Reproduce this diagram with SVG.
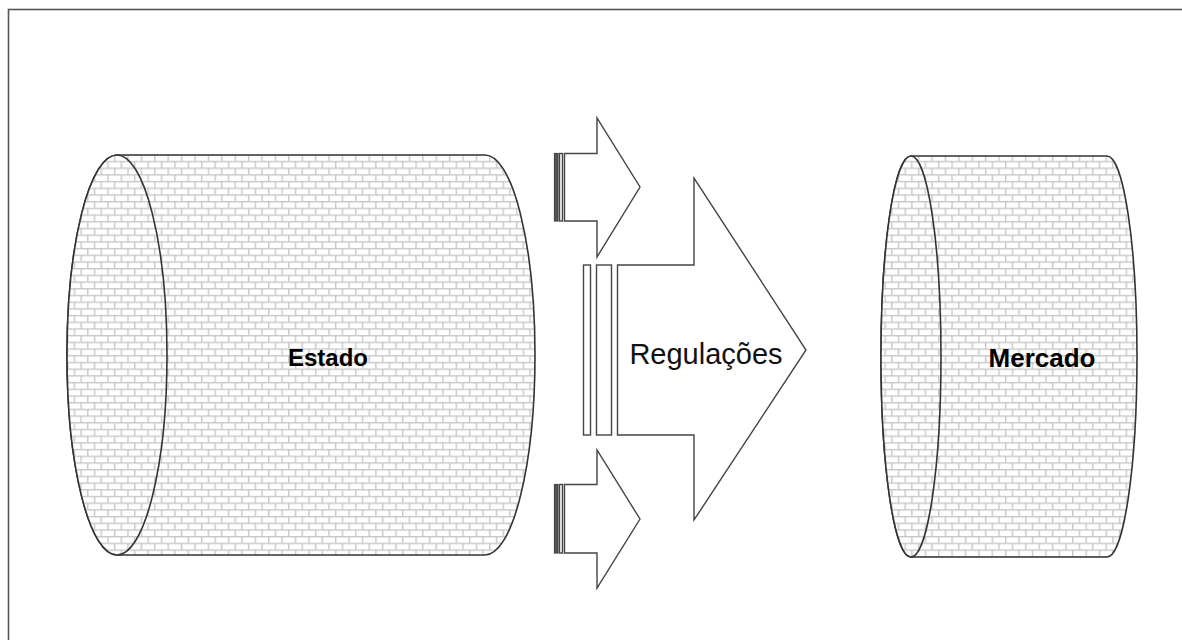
<svg xmlns="http://www.w3.org/2000/svg" width="1182" height="640" viewBox="0 0 1182 640">
  <style>
    .outline { stroke: #333; stroke-width: 1.6; }
    .arrow { fill: #fff; stroke: #444; stroke-width: 1.4; stroke-linejoin: miter; }
    .bar { fill: #555; stroke: #444; stroke-width: 1.2; }
    .label-bold { font-family: "Liberation Sans", Arial, sans-serif; font-weight: bold; font-size: 24px; fill: #000; text-anchor: middle; }
    .label { font-family: "Liberation Sans", Arial, sans-serif; font-size: 29px; fill: #111; text-anchor: middle; }
  </style>
  <defs>
    <!-- small brick fill shared by both cylinders -->
    <pattern id="brick" patternUnits="userSpaceOnUse" width="13.4" height="13.4">
      <rect width="13.4" height="13.4" fill="#fff"/>
      <g stroke="#c8c8c8" stroke-width="1.4" fill="none">
        <line x1="0" y1="0.7" x2="13.4" y2="0.7"/>
        <line x1="0" y1="7.4" x2="13.4" y2="7.4"/>
        <line x1="0.7" y1="0.7" x2="0.7" y2="7.4"/>
        <line x1="7.4" y1="7.4" x2="7.4" y2="13.4"/>
      </g>
    </pattern>
  </defs>

  <!-- page frame -->
  <rect x="8.5" y="9.5" width="1180" height="640" fill="#fff" stroke="#555" stroke-width="1.6"/>

  <!-- Estado: horizontal cylinder -->
  <g id="estado">
    <path class="outline" fill="url(#brick)" d="M117,155 H485 A50,200 0 0 1 485,555 H117 A50,200 0 0 1 117,155 Z"/>
    <ellipse class="outline" fill="url(#brick)" cx="117" cy="355" rx="50" ry="200"/>
    <text class="label-bold" x="328" y="366">Estado</text>
  </g>

  <!-- Mercado: horizontal cylinder -->
  <g id="mercado">
    <path class="outline" fill="url(#brick)" d="M911,156 H1107 A30,200.5 0 0 1 1107,557 H911 A30,200.5 0 0 1 911,156 Z"/>
    <ellipse class="outline" fill="url(#brick)" cx="911" cy="356.5" rx="30" ry="200.5"/>
    <text class="label-bold" x="1042" y="367" style="font-size:26px">Mercado</text>
  </g>

  <!-- striped arrows between the two blocks -->
  <g id="connectors">
    <g id="arrow-top">
      <rect class="bar" x="554.5" y="153.5" width="3.5" height="67.5"/>
      <rect class="arrow" x="559.5" y="153.5" width="3" height="67.5"/>
      <polygon class="arrow" points="564.5,153.5 597,153.5 597,118 640,187 597,257 597,221 564.5,221"/>
    </g>
    <g id="arrow-bottom">
      <rect class="bar" x="554.5" y="484.5" width="3.5" height="68.5"/>
      <rect class="arrow" x="559.5" y="484.5" width="3" height="68.5"/>
      <polygon class="arrow" points="564.5,484.5 597,484.5 597,450 640,519 597,588 597,553 564.5,553"/>
    </g>
    <g id="arrow-regulacoes">
      <rect class="arrow" x="583.5" y="265" width="7" height="170"/>
      <rect class="arrow" x="596.5" y="265" width="15" height="170"/>
      <polygon class="arrow" points="617.5,265 694,265 694,178 806,350 694,520 694,435 617.5,435"/>
      <text class="label" x="706" y="364">Regulações</text>
    </g>
  </g>
</svg>
